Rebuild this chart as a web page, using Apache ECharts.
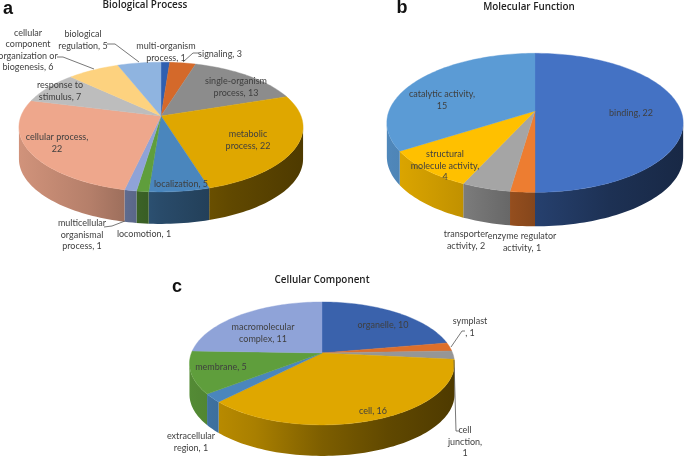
<!DOCTYPE html>
<html><head><meta charset="utf-8">
<style>html,body{margin:0;padding:0;background:#fff}#c{width:685px;height:459px}</style>
<script src="https://cdn.jsdelivr.net/npm/echarts@6/dist/echarts.min.js"></script>
</head><body><div id="c"></div>
<script>
// ---- data ----
const bpNames = ['multi-organism\nprocess, 1','signaling, 3','single-organism\nprocess, 13','metabolic\nprocess, 22','localization, 5','locomotion, 1','multicellular\norganismal\nprocess, 1','cellular process,\n22','response to\nstimulus, 7','cellular\ncomponent\norganization or\nbiogenesis, 6','biological\nregulation, 5'];
const bpValues = [1,3,13,22,5,1,1,22,7,6,5];
const mfNames = ['binding, 22','enzyme regulator\nactivity, 1','transporter\nactivity, 2','structural\nmolecule activity,\n4','catalytic activity,\n15'];
const mfValues = [22,1,2,4,15];
const ccNames = ['organelle, 10','symplast\n, 1','cell\njunction,\n1','cell, 16','extracellular\nregion, 1','membrane, 5','macromolecular\ncomplex, 11'];
const ccValues = [10,1,1,16,1,5,11];
// ---- styles / layout ----
const bpColors = ['#2f5fb0','#d4692a','#8c8c8c','#dfa700','#4a86bd','#5f9e3c','#8fa3d8','#eea78c','#bdbdbd','#fdd27f','#8fb4e0'];
const mfColors = ['#4472c4','#ed7d31','#a5a5a5','#ffc000','#5b9bd5'];
const ccColors = ['#3a62ac','#dd6f2b','#969696','#dfa700','#4a86bd','#5f9e3c','#8fa3d8'];
const bpLabelPos = [[166,52],[220,54],[236,87],[248,140],[181,184],[144,234],[82,235],[57,143],[60,91],[28,50],[83,40]];
const mfLabelPos = [[631,113],[522,242],[466,240],[445,166],[442,100]];
const ccLabelPos = [[383,325],[470,327],[465,442],[373,411],[191,442],[221,367],[263,333]];
const bpLeaders = [[[107,44],[115,44],[139,62]],[[57,57],[63,57],[94,69]],[[199,53],[193,53],[183,62]],[[104,227],[112,226],[125,221]]];
const ccLeaders = [[[465,331],[462,331],[451,347]],[[459,431],[456,431],[454,360]]];
const K = 0.17;
const pies = [
  {names:bpNames,values:bpValues,colors:bpColors,pos:bpLabelPos,leaders:bpLeaders,cx:161,cy:116,a:140,b:63,d:32},
  {names:mfNames,values:mfValues,colors:mfColors,pos:mfLabelPos,leaders:[],cx:535,cy:111,a:146,b:67.5,d:34},
  {names:ccNames,values:ccValues,colors:ccColors,pos:ccLabelPos,leaders:ccLeaders,cx:322,cy:353,a:130.6,b:59.7,d:31}
];
const titles = [['Biological Process',145,5],['Molecular Function',529,7],['Cellular Component',322,280]];
const letters = [['a',8,9],['b',402,8],['c',177,287]];
const LABEL_FONT = 'Lato';
const LABEL_SIZE = 9;

function rim(p,deg){
  const t=deg*Math.PI/180,u=Math.sin(t),v=-Math.cos(t),w=1-K*v;
  return [p.cx+p.a*u/w,p.cy+p.b*v/w];
}
function arc(p,a0,a1){
  const pts=[],n=Math.max(2,Math.ceil((a1-a0)/1.5));
  for(let i=0;i<=n;i++)pts.push(rim(p,a0+(a1-a0)*i/n));
  return pts;
}
function shade(hex,f){
  const n=parseInt(hex.slice(1),16);
  const c=[(n>>16)&255,(n>>8)&255,n&255].map(x=>Math.round(x*f));
  return 'rgb('+c.join(',')+')';
}
const shadeStops=[[0,.88],[.25,.76],[.5,.56],[.75,.43],[1,.35]];
const silhouette=Math.acos(-K)*180/Math.PI;

const series=[];
pies.forEach(p=>{
  const total=p.values.reduce((s,x)=>s+x,0);
  const startOf=i=>p.values.slice(0,i).reduce((s,x)=>s+x,0)/total*360;
  series.push({
    type:'custom',coordinateSystem:'none',z:2,silent:true,animation:false,
    data:p.values,
    renderItem:(params,api)=>{
      const i=params.dataIndex,a0=startOf(i),a1=a0+api.value(0)/total*360;
      const s=Math.max(a0,silhouette),e=Math.min(a1,360-silhouette);
      if(e<=s)return null;
      const upper=arc(p,s,e),lower=upper.map(q=>[q[0],q[1]+p.d]).reverse();
      const fill=new echarts.graphic.LinearGradient(p.cx-p.a*1.02,0,p.cx+p.a*1.02,0,
        shadeStops.map(st=>({offset:st[0],color:shade(p.colors[i],st[1])})),true);
      return {type:'polygon',shape:{points:upper.concat(lower)},style:{fill}};
    }
  });
  series.push({
    type:'custom',coordinateSystem:'none',z:3,silent:true,animation:false,
    data:p.values,
    renderItem:(params,api)=>{
      const i=params.dataIndex,a0=startOf(i),a1=a0+api.value(0)/total*360;
      return {type:'polygon',shape:{points:[[p.cx,p.cy]].concat(arc(p,a0,a1))},
        style:{fill:p.colors[i],stroke:p.colors[i],lineWidth:.4}};
    }
  });
  series.push({
    type:'custom',coordinateSystem:'none',z:4,silent:true,animation:false,
    data:p.names,
    renderItem:(params)=>{
      const i=params.dataIndex;
      return {type:'text',x:p.pos[i][0],y:p.pos[i][1],
        style:{text:p.names[i],fill:'#3f3f3f',font:LABEL_SIZE+'px '+LABEL_FONT,align:'center',verticalAlign:'middle',lineHeight:11.5}};
    }
  });
});
const graphic=[];
pies.forEach(p=>p.leaders.forEach(l=>graphic.push({type:'polyline',z:5,shape:{points:l},style:{stroke:'#555',lineWidth:.8,fill:null}})));
titles.forEach(t=>graphic.push({type:'text',z:5,x:t[1],y:t[2],style:{text:t[0],fill:'#222',font:'600 9.9px "Open Sans"',align:'center',verticalAlign:'middle'}}));
letters.forEach(t=>graphic.push({type:'text',z:5,x:t[1],y:t[2],style:{text:t[0],fill:'#111',font:'bold 18px "Liberation Sans"',align:'center',verticalAlign:'middle'}}));

const chart=echarts.init(document.getElementById('c'),null,{renderer:'canvas'});
chart.setOption({animation:false,backgroundColor:'#fff',series,graphic});
</script></body></html>
